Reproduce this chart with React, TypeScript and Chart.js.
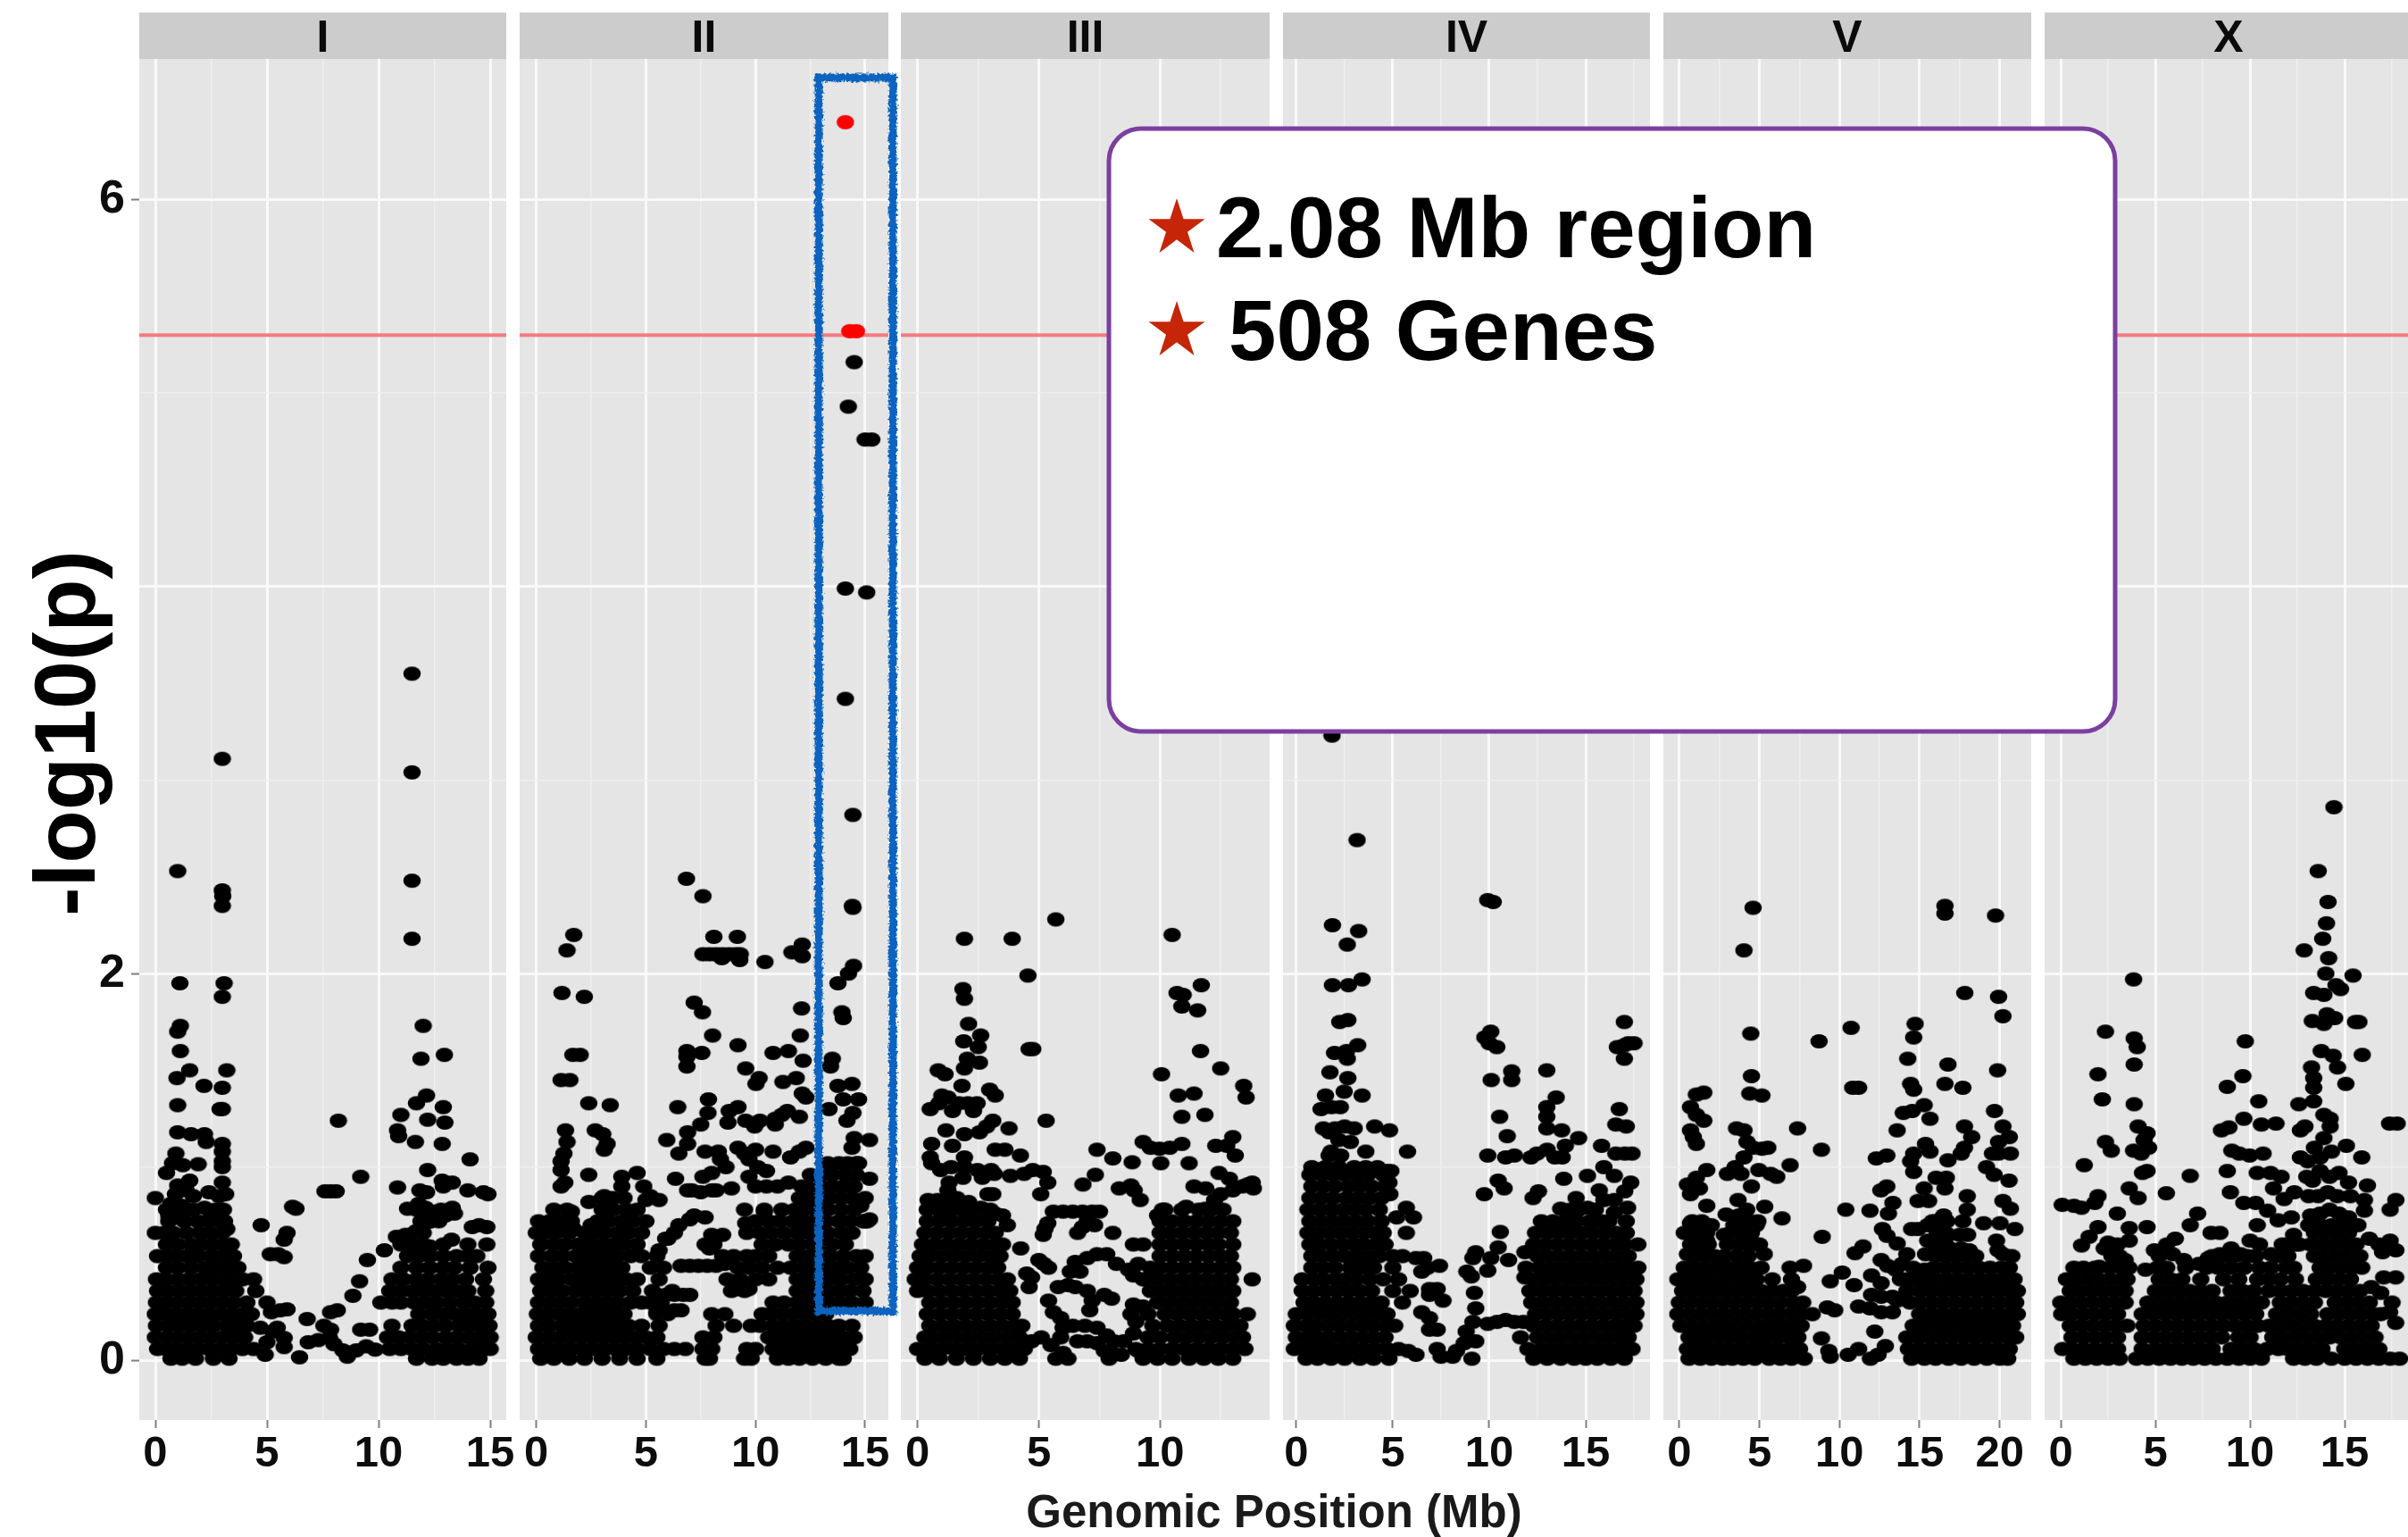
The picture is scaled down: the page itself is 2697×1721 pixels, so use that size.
import React, { useEffect, useRef } from "react";
import { Chart, registerables } from "chart.js";

Chart.register(...registerables);

// ---------- values (x = Mb, y = -log10 p) ----------
const chromosomes = ["I", "II", "III", "IV", "V", "X"];
const threshold = 5.3;
const yMajorTicks = [0, 2, 4, 6];
const yLabelled = [0, 2, 6];

const peaksI = [[11.5,3.55],[11.5,3.04],[3,3.11],[1,2.53],[3,2.43],[3.02,2.4],[3,2.35],[11.5,2.48],[11.5,2.18],[1.1,1.95],[3.08,1.95],[3,1.88],[12,1.73],[1.12,1.73],[1,1.7],[1.12,1.6],[11.9,1.56],[12.95,1.58],[3.2,1.5],[1.54,1.5],[.97,1.46],[2.18,1.42],[3,1.41],[1,1.32],[3,1.3],[2.9,1.3],[12.15,1.37],[11.7,1.33],[12.9,1.31],[11,1.27],[12.2,1.245],[12.97,1.23],[8.2,1.24],[10.85,1.19],[10.9,1.16],[11.65,1.13],[12.85,1.12],[1,1.18],[1.6,1.17],[2.2,1.17],[2.28,1.13],[3,1.12],[3,1.08],[3,1.03],[3,1],[.92,1.07],[.77,1.02],[1.23,1.01],[1.92,1.015],[14.1,1.04],[12.2,.985],[9.2,.95],[3,.92],[1.54,.93],[1,.905],[10.85,.895],[12.85,.93],[13.3,.92],[12.9,.9],[14,.88],[14.9,.86],[14.7,.87],[7.85,.875],[7.6,.875],[8.1,.875],[0,.84],[1.38,.88],[1.7,.85],[2.4,.87],[2.85,.85],[3.15,.86],[11.85,.88],[12.15,.87],[6.15,.795],[6.3,.785],[.7,.81],[11.3,.785],[11.8,.81],[12.1,.79],[12.5,.77],[13,.75],[13.3,.79],[13.4,.76],[4.74,.7],[5.9,.66],[5.77,.625],[14.5,.7],[14.2,.69],[14.85,.69],[14.85,.6],[14,.6],[13.27,.625],[12.3,.59],[5.15,.55],[5.5,.55],[5.77,.535],[10.26,.57],[9.5,.52],[9.15,.41],[8.85,.335],[7.85,.25],[8.15,.26],[6.8,.215],[6.46,.017],[6.85,.095],[7.3,.106],[7.8,.117],[8,.085],[8.4,.053],[8.6,.02],[9,.053],[9.45,.074],[9.85,.057],[9.2,.16],[9.6,.16],[7.55,.18],[7.85,.16],[5,.3],[5.2,.25],[5.9,.265],[5.6,.26],[5.77,.07],[4.92,.03],[5.77,.117],[5.46,.17],[5,.095],[4.7,.17],[5.25,.15],[.5,.97],[.9,.86],[1.2,.8],[2.2,.79],[2.5,.76],[2.9,.78],[3.1,.72],[3.2,.68],[.6,.75],[.9,.74],[1.2,.75],[10.8,.64],[11.2,.65],[11.7,.67],[12,.7],[12.3,.72]];
const rowsI = [
[.01,.7,1.2,1.8,2.6,3.3,11.7,12.4,12.9,13.5,14,14.5],
[.06,.1,.5,.9,1.4,1.9,2.4,2.9,3.4,3.9,4.4,10.5,11,11.5,12,12.6,13.1,13.6,14.2,14.7,15],
[.12,0,.5,1,1.5,2,2.5,3,3.5,4,10.4,10.9,11.4,11.9,12.4,13,13.5,14,14.5,15],
[.18,.05,.6,1.1,1.6,2.1,2.6,3.2,3.7,4.1,10.6,11.5,12,12.5,13,13.6,14.1,14.6,14.95],
[.24,0,.4,.9,1.4,1.9,2.4,2.9,3.4,3.9,4.3,11.8,12.4,12.9,13.4,13.9,14.4,14.9],
[.3,.05,.5,1,1.5,2,2.5,3,3.5,4.1,10.1,10.6,11,11.6,12.1,12.6,13.2,13.8,14.3,14.8],
[.36,.1,.6,1.1,1.6,2.1,2.6,3.1,3.6,4.5,10.5,11,11.5,12,12.5,13,13.5,14,14.8],
[.42,.05,.45,1,1.5,2,2.5,3,3.4,3.9,4.4,10.6,11.1,11.7,12.2,12.8,13.3,13.9,14.7],
[.48,.5,1,1.6,2.2,2.7,3.2,3.7,11,11.7,12.3,12.9,13.4,14.1,14.9],
[.54,.1,.5,.9,1.4,1.9,2.5,3,3.5,11.3,11.8,12.3,12.9,13.5,14,14.4],
[.6,.5,1,1.6,2.1,2.6,3.1,3.4,11,11.5,12,12.9],
[.66,0,.4,.8,1.4,2,2.5,3,11.6,12],
[.72,.6,1.3,1.9,2.4,2.9,11.9,12.3,12.7],
[.78,.5,.9,1.7,2.7,3.05,11.7,12,12.8],
];

const peaksII = [[6.85,2.49],[7.6,2.4],[14.44,2.34],[1.71,2.2],[1.4,2.12],[8.1,2.19],[9.17,2.19],[7.6,2.1],[7.9,2.1],[8.2,2.1],[8.5,2.1],[8.8,2.1],[9.1,2.1],[9.3,2.1],[8.46,2.08],[9.28,2.07],[10.43,2.06],[12.13,2.15],[11.66,2.11],[12.13,2.09],[14.47,2.04],[14.24,2],[13.76,1.95],[1.17,1.9],[2.19,1.88],[7.2,1.85],[7.58,1.8],[12.1,1.82],[13.94,1.8],[14,1.77],[8.04,1.68],[12.04,1.68],[9.2,1.63],[6.87,1.6],[6.87,1.57],[6.87,1.52],[7.55,1.59],[10.8,1.59],[11.5,1.6],[1.67,1.58],[2,1.58],[12.17,1.55],[13.5,1.56],[13.42,1.52],[9.55,1.51],[10.16,1.46],[10.02,1.43],[1.13,1.45],[1.53,1.45],[11.25,1.44],[11.86,1.46],[13.76,1.42],[14.4,1.43],[12.13,1.38],[12.3,1.36],[14,1.35],[14.7,1.35],[2.39,1.33],[3.37,1.32],[6.45,1.31],[7.85,1.35],[7.83,1.28],[9.2,1.31],[8.8,1.29],[13.35,1.3],[11.45,1.29],[12,1.26],[10.9,1.25],[11.2,1.27],[10.2,1.24],[9.96,1.21],[9.55,1.24],[8.74,1.23],[10.9,1.22],[14.17,1.24],[14.44,1.28],[7.5,1.22],[1.33,1.19],[2.69,1.19],[3.03,1.17],[3.23,1.12],[3.1,1.09],[6.9,1.18],[6.9,1.12],[5.95,1.14],[6.5,1.07],[15.2,1.14],[1.4,1.13],[1.26,1.07],[1.13,1.03],[1.13,.985],[7.7,1.08],[8.3,1.08],[8.4,1.04],[8.65,1],[9.2,1.1],[9.5,1.07],[9.7,1.04],[10,1.09],[10.1,1],[10.5,.98],[10.8,1.08],[11.6,1.05],[12,1.08],[12.3,1.1],[2.39,.96],[4.6,.97],[3.9,.95],[3.9,.9],[4.9,.9],[5.2,.85],[5.6,.83],[5,.83],[6.35,.94],[6.9,.88],[7.1,.88],[7.5,.87],[8,.88],[8.2,.88],[8.9,.89],[7.6,.95],[8,.97],[9.7,.95],[10,.9],[10.5,.9],[11,.9],[11.5,.92],[14.5,1.15],[14.4,1.1],[14.6,1.02],[15.2,.94],[1.13,.9],[1.3,.92],[2.4,.82],[3.1,.85],[3.1,.78],[6.5,.7],[6.3,.66],[6,.63],[7.2,.75],[7,.73],[7.7,.74],[10.4,.77],[9.55,.71],[8,.65],[8.5,.65],[7.9,.58],[5.9,.63],[5.6,.57],[15.2,.73],[15,.72],[14.8,.8],[1.6,.77],[1.2,.72],[1.7,.68],[2.2,.66],[2.3,.6],[2.5,.7],[6.6,.49],[7,.49],[7.4,.49],[7.8,.49],[8.2,.49],[8.6,.5],[5.5,.34],[5.9,.34],[6.3,.34],[6.7,.34],[7,.34],[5.5,.25],[5.9,.25],[6.3,.26],[6.6,.26],[9.2,.37],[9.7,.37]];
const rowsII = [
[.01,.2,.8,1.5,2.2,3,3.8,4.6,5.5,7.7,7.9,9.5,9.8,11,11.5,12,12.6,13.2,13.8,14],
[.06,.1,.6,1.1,1.6,2.1,2.6,3.1,3.6,4.1,4.6,5.2,5.8,6.3,6.8,7.6,8,9.6,10,10.8,11.3,11.8,12.3,12.8,13.3,13.8,14.3],
[.12,0,.5,1,1.5,2,2.5,3,3.5,4,4.5,5,5.5,7.6,8.1,10.6,11,11.5,12,12.5,13,13.5,14,14.5],
[.18,.1,.6,1.2,1.7,2.2,2.7,3.2,3.7,4.2,4.8,5.6,8.2,9,9.8,10.2,10.8,11.3,11.8,12.3,12.8,13.3,13.8,14.4],
[.24,.05,.5,1,1.5,2,2.5,3,3.5,4,5.5,6,8,8.6,10.3,10.7,11.2,11.7,12.2,12.7,13.2],
[.3,.1,.6,1.1,1.6,2.2,2.7,3.2,3.7,4.3,4.8,5.2,5.7,10.8,11.3,11.9,12.4,12.9,13.4,13.9,14.4,15],
[.36,.2,.7,1.2,1.8,2.3,2.8,3.3,3.8,4.4,5.3,6.2,8.9,9.5,11.9,12.3,12.8,13.3,13.8,14.3,14.9],
[.42,.1,.5,1,1.6,2.1,2.6,3.1,3.6,4.1,4.6,5.6,8.7,9.3,10,10.6,11.9,12.4,12.9,13.4,13.9,14.5,15],
[.48,.3,.8,1.3,1.9,2.4,2.9,3.4,3.9,5.2,5.8,9.2,9.7,10.3,11,11.6,12.2,12.7,13.2,13.7,14.2,14.8],
[.54,.1,.7,1.2,1.8,2.2,2.7,3.2,3.7,4.3,4.8,5.5,8.5,9,9.6,10,10.6,11.9,12.4,12.9,13.4,14,14.6,15],
[.6,.2,.8,1.3,1.9,2.5,3,3.5,4,4.6,7.7,8.1,10.3,10.9,11.5,12,12.6,13,13.5,14.1],
[.66,0,.4,.9,1.5,2.6,3.1,3.7,4.2,4.8,9.6,10.2,10.7,11.3,11.9,12.4,12.9,13.3,13.9,14.4],
[.72,.1,.6,1.1,1.6,2.8,3.3,3.9,4.4,5,10,10.6,11.1,11.7,12.2,12.7,13.2,13.8,14.3,14.9,15.1],
[.78,.8,1.4,3,3.5,4.1,4.6,9.5,10.4,11.2,11.8,12.2,12.7,13.3,13.9,14.5],
[.84,3,3.5,4,12,12.4,12.9,13.4,13.9,14.4,15],
[.9,12.1,12.5,13,13.5,14,14.5],
[.96,12.5,13,13.5,14.1,14.6],
[1.02,13.3,13.8,14.2,14.7],
];

const peaksIII = [[5.7,2.28],[1.93,2.18],[3.9,2.18],[10.5,2.2],[4.55,1.99],[11.7,1.94],[1.87,1.92],[1.93,1.87],[10.7,1.9],[10.95,1.89],[10.9,1.83],[11.55,1.81],[2.1,1.74],[2.6,1.68],[1.9,1.65],[2.5,1.62],[4.75,1.61],[4.6,1.61],[11.67,1.6],[2.05,1.56],[2.55,1.54],[1.93,1.51],[.85,1.5],[1.13,1.48],[12.5,1.51],[10.06,1.48],[1.83,1.42],[13.45,1.42],[13.55,1.36],[2.97,1.4],[3.2,1.37],[10.75,1.37],[11.4,1.38],[1,1.37],[1.25,1.36],[.88,1.33],[.52,1.3],[1.7,1.33],[2.07,1.33],[2.45,1.33],[1.44,1.29],[2.3,1.29],[10.9,1.26],[11.85,1.27],[5.3,1.24],[3.1,1.24],[2.85,1.21],[2.55,1.18],[3.77,1.2],[1.17,1.19],[1.93,1.17],[13,1.155],[9.3,1.13],[9.6,1.1],[9.98,1.095],[10.4,1.1],[10.9,1.12],[7.4,1.09],[12.3,1.11],[12.75,1.11],[13.1,1.06],[.58,1.12],[1.44,1.11],[3.2,1.09],[3.6,1.09],[4.24,1.06],[8.05,1.045],[8.85,1.025],[10.03,1.02],[11.2,1.02],[.52,1.05],[.58,1.02],[.95,.985],[1.38,1],[1.93,1.05],[1.93,1],[1.87,.945],[2.47,.985],[3.03,.985],[2.67,.945],[3.16,.965],[3.83,.955],[4.39,.965],[4.75,.985],[5.18,.975],[5.37,.92],[5.08,.86],[7.33,.96],[6.82,.91],[12.43,.97],[12.86,.94],[13.8,.92],[13.85,.89],[13.6,.91],[8.32,.89],[8.8,.905],[9.18,.83],[8.93,.88],[11.4,.9],[11.88,.89],[12.5,.86],[13,.88],[13.4,.9],[3.1,.86],[2.9,.86],[.43,.83],[1.25,.88],[.82,.83],[1.62,.84],[11.08,.795],[11.88,.785],[12.25,.83],[5.6,.77],[6,.77],[6.4,.77],[6.8,.77],[7.2,.77],[7.5,.77],[5.25,.68],[5.18,.65],[5.37,.71],[6.8,.69],[7,.72],[7.3,.7],[6.6,.66],[8.05,.66],[8.9,.6],[9.3,.6],[4.25,.58],[9.9,.75],[10.2,.78],[3.5,.75],[3.7,.7],[3.2,.76],[2.6,.79],[1.3,.92],[1,.75],[5,.52],[5.2,.5],[4.7,.43],[4.5,.45],[5.4,.48],[4.6,.38],[6.3,.46],[6.7,.46],[6.5,.51],[7,.53],[7.4,.55],[7.8,.55],[8.2,.5],[8.7,.47],[8.9,.44],[9.1,.5],[9.4,.42],[9.8,.44],[5.4,.31],[5.8,.38],[6.2,.39],[6.5,.38],[7,.36],[7.2,.31],[7.7,.34],[8,.32],[7.1,.26],[8.9,.29],[9.3,.28],[5.6,.25],[5.9,.22],[6,.17],[5.9,.12],[4.7,.1],[5.1,.12],[5.5,.08],[6,.04],[6.4,.18],[6.9,.18],[7.4,.17],[7.8,.13],[8.1,.1],[6.6,.1],[7,.1],[7.4,.09],[7.7,.05],[8,.04],[8.5,.1],[8.9,.14],[9,.2],[8.8,.24],[5.7,.01],[6.2,.01],[7.9,.01],[8.4,.03],[9.1,.05]];
const rowsIII = [
[.01,.3,.9,1.6,2.3,3,3.6,4.2,9.3,9.9,10.5,11.2,11.8,12.4,13],
[.06,0,.5,1,1.5,2,2.5,3,3.5,4,4.4,9,9.5,10,10.5,11,11.5,12,12.5,13,13.5],
[.12,.3,.7,1.2,1.7,2.2,2.7,3.2,3.7,4.2,9.5,10,10.6,11.1,11.6,12.1,12.6,13.1,13.4],
[.18,.5,1,1.5,2,2.5,3,3.5,4,4.3,9.7,10.3,10.8,11.3,11.8,12.3,12.8,13.3],
[.24,.4,.9,1.4,1.9,2.4,2.9,3.4,3.9,9.5,10.2,10.7,11.2,11.7,12.2,12.7,13,13.6],
[.3,.5,1,1.5,2,2.5,3,3.5,3.9,9.9,10.4,10.9,11.4,11.9,12.4,12.9],
[.36,0,.4,.9,1.4,1.9,2.4,2.9,3.4,3.8,9.6,10.1,10.6,11.1,11.6,12.1,12.6,13],
[.42,-.1,.3,.8,1.3,1.8,2.3,2.8,3.3,3.7,9.3,9.9,10.4,10.9,11.4,11.9,12.4,12.9,13.8],
[.48,0,.4,.9,1.4,1.9,2.4,2.9,3.3,9.6,10,10.5,11,11.5,12,12.5,13],
[.54,.1,.5,1,1.5,2,2.5,3,3.4,10,10.5,11,11.5,12,12.5,12.9],
[.6,.2,.7,1.2,1.7,2.2,2.7,3.2,3.5,10,10.5,11,11.5,12,12.4,13],
[.66,.3,.8,1.3,1.8,2.3,2.8,3.2,10,10.4,10.9,11.4,11.9,12.4,12.9],
[.72,.4,.9,1.4,1.9,2.4,2.9,10,10.5,11,11.5,12,12.5,13],
[.78,.4,.9,1.4,1.8,2.2,2.7,3,10.1,10.9,11.6,12.1,12.6],
[.82,1.2,1.7,2.1],
];

const peaksIV = [[1.85,3.23],[3.15,2.69],[1.87,2.25],[3.23,2.22],[2.64,2.15],[3.41,1.97],[1.87,1.94],[2.7,1.94],[9.92,2.38],[10.2,2.37],[2.25,1.75],[2.67,1.76],[17,1.75],[10.08,1.7],[9.77,1.67],[10,1.64],[10.39,1.62],[16.64,1.62],[17,1.63],[17.5,1.64],[17.2,1.64],[17,1.56],[3.18,1.63],[2.6,1.6],[1.98,1.59],[2.64,1.56],[12.98,1.5],[11.16,1.495],[11.16,1.45],[1.74,1.49],[10.1,1.45],[2.67,1.46],[2.48,1.39],[3.41,1.37],[1.51,1.37],[1.28,1.3],[1.82,1.31],[2.28,1.31],[13.47,1.36],[12.98,1.31],[12.98,1.26],[12.98,1.2],[10.54,1.26],[16.74,1.3],[16.56,1.22],[17.1,1.21],[4.06,1.21],[4.83,1.19],[13.75,1.19],[10.93,1.16],[14.63,1.15],[13.94,1.11],[15.82,1.11],[5.76,1.08],[9.92,1.06],[10.85,1.05],[11.3,1.06],[12.16,1.05],[12.47,1.07],[13,1.09],[13.4,1.05],[13.78,1.05],[16.56,1.07],[17.02,1.07],[17.4,1.07],[15.94,1],[16.48,.955],[13.86,.94],[15.09,.955],[10.46,.93],[10.77,.89],[12.55,.875],[12.27,.84],[9.74,.86],[17.33,.92],[17.02,.875],[15.7,.88],[15.94,.83],[16.48,.83],[16.48,.765],[17.17,.79],[13.7,.785],[14.55,.775],[15.09,.79],[5.7,.79],[5.2,.74],[6.07,.74],[5.7,.66],[10.57,.665],[17.1,.72],[10.46,.585],[10.08,.53],[9.92,.465],[9.3,.56],[9.15,.53],[11,.52],[11.85,.56],[8.84,.46],[9.07,.435],[11.85,.43],[7.42,.49],[9.23,.35],[9.3,.27],[9.15,.2],[11.62,.12],[9.92,.19],[10.4,.2],[10.85,.21],[11.3,.2],[11.77,.2],[6.2,.53],[6.6,.53],[6.5,.46],[6.8,.48],[7.3,.37],[6.9,.37],[6.5,.25],[6.9,.22],[7.3,.16],[6.9,.16],[7.6,.31],[6.9,.34],[5.8,.05],[6.2,.03],[7.3,.06],[7.5,.02],[8.1,.02],[8.3,.05],[8.7,.09],[9.1,.01],[8.8,.15],[9.3,.1],[2,1.2],[2.5,1.21],[3,1.2],[1.4,1.2],[1.7,1.18],[2.2,1.14],[2.8,1.13],[3.6,1.08],[1.8,1.08],[4.7,.98],[4.8,.92],[4.85,.86],[4.9,.98]];
const rowsIV = [
[.01,.5,1.1,1.8,2.5,3.3,4,4.8,12.3,13,13.7,14.4,15,15.6,16.3,17],
[.06,-.1,.4,.9,1.4,1.9,2.5,3,3.5,4.1,4.7,5.3,12,12.7,13.3,13.9,14.5,15.1,15.7,16.3,16.9,17.4],
[.12,0,.6,1.1,1.7,2.3,2.9,3.5,4,4.6,12.5,13.1,13.7,14.3,14.9,15.5,16.1,16.7,17.2],
[.18,-.1,.5,1,1.6,2.2,2.8,3.4,4,4.6,5.1,12.3,12.9,13.5,14.1,14.7,15.3,15.9,16.5,17,17.5],
[.24,0,.6,1.2,1.8,2.4,3,3.6,4.2,4.7,12.4,13,13.6,14.2,14.8,15.4,16,16.6,17.2,17.6],
[.3,.4,.9,1.5,2.1,2.7,3.3,3.9,4.4,5.5,12.2,12.8,13.4,14,14.6,15.2,15.8,16.4,17,17.6],
[.36,.3,.9,1.5,2.1,2.7,3.3,3.9,5,5.9,12.1,12.7,13.3,13.9,14.5,15.1,15.7,16.3,16.9,17.5],
[.42,.3,.9,1.4,2,2.5,3.1,3.8,4.5,5.3,12.3,12.9,13.5,14.1,14.7,15.3,15.9,16.5,17.1,17.6],
[.48,.8,1.4,2,2.8,3.4,4,5,11.9,12.6,13.2,13.8,14.4,15,15.6,16.2,16.8,17.2,17.7],
[.54,.8,1.3,1.9,2.5,3.1,3.7,4.3,5,5.5,12.5,13,13.6,14.2,14.8,15.4,16,16.6,17.2],
[.6,.7,1.2,1.8,2.4,3,3.5,4.1,4.6,12.3,12.9,13.5,14.1,14.7,15.3,15.9,16.5,17,17.7],
[.66,.6,1.1,1.7,2.3,2.9,3.5,4.1,4.5,12.4,13,13.6,14.2,14.8,15.4,16,16.6,17.1],
[.72,.7,1.3,1.9,2.5,3.1,3.7,4.4,12.7,13.3,13.9,14.5,15.2,15.8,16.2],
[.78,.6,1.2,1.8,2.4,3,3.6,4.3,14.2,14.6,15.5],
[.84,.7,1.3,1.9,2.6,3.2,3.8,4.4,14.5],
[.9,.8,1.4,2,2.7,3.3,3.9,4.6],
[.96,.7,1.3,1.9,2.5,3.1,3.7,4.5],
[1.0,.8,1.5,2.2,3,3.6,4.2],
[1.06,1.7,2.3],
];

const peaksV = [[4.6,2.34],[4.03,2.12],[16.58,2.35],[16.58,2.31],[19.74,2.3],[17.82,1.9],[19.93,1.88],[20.2,1.78],[4.46,1.69],[10.72,1.72],[8.72,1.65],[14.72,1.74],[14.63,1.67],[14.26,1.56],[16.77,1.53],[19.87,1.5],[4.5,1.47],[14.44,1.43],[14.63,1.4],[16.58,1.43],[17.7,1.41],[10.82,1.41],[11.19,1.41],[4.4,1.38],[5.15,1.37],[1.52,1.385],[1.06,1.375],[15.28,1.32],[13.98,1.28],[14.54,1.29],[15.65,1.25],[19.68,1.29],[.69,1.31],[1.06,1.27],[1.52,1.24],[.69,1.19],[.87,1.155],[1.06,1.12],[3.57,1.2],[4.03,1.19],[4.22,1.13],[7.38,1.2],[13.6,1.19],[17.8,1.21],[18.25,1.155],[17.8,1.1],[17.6,1.07],[20.2,1.21],[20.6,1.155],[19.93,1.13],[20.67,1.07],[19.93,1.07],[19.55,1.07],[8.87,1.09],[15.37,1.12],[15.65,1.08],[14.63,1.07],[14.44,1.03],[14.63,.975],[12.3,1.045],[12.95,1.06],[16.77,1.035],[19.18,1],[19.65,.96],[20.58,.93],[6.91,1.01],[4.6,1.1],[5.52,1.1],[5.15,1.095],[4.03,1.05],[3.48,1],[1.71,.985],[3,.965],[3.85,.965],[4.96,.985],[5.7,.965],[6.08,.95],[4.5,.9],[1.06,.945],[.5,.91],[1.25,.89],[.69,.86],[12.95,.9],[12.58,.88],[16.03,.945],[16.67,.945],[16.58,.89],[15.28,.89],[17.97,.85],[3.66,.83],[1.71,.8],[5.33,.795],[13.33,.815],[13.05,.76],[14.9,.825],[15.56,.825],[20.2,.825],[20.67,.785],[10.39,.78],[11.9,.775],[17.97,.78],[2.92,.755],[6.41,.735],[19,.71],[20.02,.71],[.69,.71],[1.99,.7],[12.68,.68],[12.96,.645],[20.95,.68],[8.92,.64],[13.6,.605],[11.47,.59],[10.97,.555],[20.76,.54],[15.37,.55],[7.75,.49],[6.91,.48],[7.38,.38],[7,.42],[10.17,.455],[9.42,.41],[10.91,.39],[11.19,.28],[9.24,.275],[9.7,.26],[8.87,.115],[9.33,.05],[9.42,.02],[10.54,.03],[11.19,.06],[11.93,.01],[12.4,.03],[12.86,.075],[12.6,.52],[13,.49],[13.5,.47],[12,.44],[12.6,.4],[12,.34],[12.6,.33],[11.9,.27],[12.6,.25],[13.3,.25],[12.2,.15],[.7,.6],[.5,.55],[1.2,.6],[1.7,.62],[2.8,.65],[3.4,.7],[3.9,.68],[4.4,.65],[5,.6],[4.8,.7],[4.2,.78],[3.7,.75],[5.3,.55],[14.5,.68],[14.9,.68],[15.5,.7],[16,.72],[16.5,.75],[16.8,.65],[16.9,.58],[17.5,.65],[17.7,.72],[18,.65],[17.6,.58],[18.1,.57],[19.8,.62],[19.9,.57],[20.2,.55],[15.5,.62],[16.4,.55],[14.2,.55],[13.9,.5],[14.6,.48],[15.3,.47],[13.8,.42],[14.2,.42],[13.3,.33],[13.6,.31]];
const rowsV = [
[.01,.6,1.3,2,2.7,3.3,4,4.7,5.6,6.3,7,7.8,14.5,15.3,16,16.8,17.6,18.4,19.2,20,20.5],
[.06,.5,1.1,1.7,2.3,3,3.7,4.3,5,5.6,6.2,6.9,7.5,14.3,15,15.7,16.4,17.1,17.8,18.5,19.2,19.9,20.6],
[.12,.6,1.2,1.8,2.5,3.2,3.9,4.7,5.4,6.1,6.8,7.4,14.2,14.9,15.6,16.3,17,17.7,18.4,19.1,19.8,20.5,21],
[.18,.1,.8,1.5,2.2,2.9,3.6,4.3,5,5.7,6.4,7.1,7.6,14.6,15.3,16,16.7,17.4,18.1,18.8,19.5,20.2,20.8],
[.24,-.1,.6,1.3,2,2.7,3.4,4.1,4.8,5.5,6.2,6.9,7.6,8.3,15,15.7,16.4,17.1,17.8,18.5,19.2,19.9,20.6,21.1],
[.3,0,.7,1.4,2.1,2.8,3.5,4.2,4.9,5.6,6.3,7.1,7.7,14.4,15.1,15.8,16.5,17.2,17.9,18.6,19.3,20,20.7,21],
[.36,.2,.9,1.6,2.3,3,3.7,4.4,5.1,5.8,6.5,7,14.2,15,15.7,16.4,17.1,17.8,18.5,19.2,19.9,20.6,21.1],
[.42,-.1,.6,1.3,2,2.7,3.4,4.1,4.8,5.8,14.6,15.3,16,16.7,17.4,18.1,18.8,19.5,20.2,20.9],
[.48,.3,1,1.7,2.4,3.1,3.8,4.4,5.1,15.9,16.6,17.3,18,18.7,19.4,20.1,20.6],
[.54,.8,1.5,2.2,2.8,3.6,4.3,16,16.7,17.3,17.9,18.5],
[.6,1,1.8,3,3.7,4.3,4.8,16,16.6],
[.66,.3,1,1.7,3.2,3.9,4.5,16.1,16.6],
[.72,.8,1.4,4.4,4.9,15.8,16.3,16.7],
];

const peaksX = [[14.43,2.86],[13.6,2.53],[14.12,2.37],[14.04,2.26],[13.84,2.18],[12.86,2.12],[14.15,2.08],[14,2],[15.44,1.99],[3.85,1.97],[14.54,1.94],[14.78,1.92],[13.36,1.9],[13.9,1.89],[15.57,1.75],[15.75,1.75],[13.29,1.755],[14.07,1.79],[14.47,1.77],[13.9,1.74],[2.36,1.7],[9.75,1.65],[3.88,1.665],[4.04,1.62],[13.76,1.6],[14.39,1.575],[14.62,1.515],[15.93,1.58],[3.88,1.53],[13.25,1.515],[13.36,1.46],[13.36,1.41],[1.97,1.48],[9.62,1.47],[15.06,1.43],[8.8,1.415],[2.2,1.35],[10.46,1.34],[3.88,1.325],[12.58,1.325],[13.36,1.34],[13.9,1.27],[14.23,1.25],[14.23,1.21],[17.37,1.225],[17.77,1.225],[9.67,1.25],[11.37,1.225],[10.6,1.22],[12.9,1.21],[12.66,1.19],[8.88,1.205],[8.49,1.19],[4.09,1.21],[4.56,1.175],[4.4,1.14],[2.36,1.13],[2.67,1.085],[3.85,1.085],[4.25,1.07],[4.64,1.1],[15.09,1.11],[15.9,1.05],[12.66,1.05],[13.05,1.03],[9.04,1.085],[9.43,1.07],[9.98,1.06],[10.69,1.07],[1.24,1.01],[6.84,.955],[8.8,.98],[4.32,.97],[4.56,.98],[10.38,.97],[11.08,.97],[11.64,.95],[3.62,.89],[4.09,.84],[5.58,.865],[11.24,.89],[8.96,.87],[1.97,.85],[1.8,.815],[.08,.805],[.7,.8],[1.1,.79],[17.7,.83],[17.4,.78],[11.8,.835],[12.34,.87],[16.2,.905],[16.04,.83],[16.04,.775],[2.99,.76],[7.23,.76],[9.67,.815],[10.3,.815],[10.93,.775],[1.97,.69],[1.5,.64],[1.1,.595],[3.62,.685],[3.62,.62],[4.56,.69],[6.05,.63],[6.84,.7],[7.94,.66],[8.41,.66],[2.5,.61],[4.95,.57],[10.38,.7],[11.48,.725],[12.18,.74],[16.3,.63],[16.8,.6],[17.4,.62],[17.7,.57],[17,.56],[2.04,.485],[4.48,.47],[17.06,.43],[17.69,.43],[17.37,.25],[17.69,.195],[13,.95],[13.3,.93],[13.7,.98],[14.2,.95],[14.7,.97],[15.2,.92],[13.4,1.1],[13.9,1.15],[14.3,1.08],[13.7,1.05],[15.3,.85],[13.1,.85],[13.6,.85],[14.1,.87],[14.6,.85],[13.2,.75],[13.7,.76],[14.2,.78],[14.7,.76],[15.2,.74],[15.7,.7],[2.3,.58],[2.9,.55],[3.4,.52],[16.4,.38],[16.9,.35],[17.5,.3],[5.9,.55],[6.5,.52],[7.3,.5],[7.8,.53],[8.4,.55],[9,.58],[9.5,.55],[10,.62],[10.5,.6],[11.1,.55],[11.7,.6],[12.3,.65],[12.6,.6]];
const rowsX = [
[.01,.7,1.3,1.9,2.5,3.1,4,4.6,5.2,5.8,6.4,7,7.6,8.2,8.8,9.4,10,10.6,12.3,12.9,13.5,14.3,15,15.6,16.2,16.8,17.4,17.9],
[.06,.1,.6,1.2,1.8,2.4,3,4.3,5,5.6,6.2,6.8,7.4,8,9,9.6,10.2,10.9,11.5,12,12.6,13.2,13.8,15,15.6,16.2,16.8],
[.12,.6,1.2,1.8,2.4,3,4.3,4.9,5.5,6.1,6.7,7.3,7.9,8.5,9.4,10,11.2,11.8,12.4,13,13.6,14.2,14.8,15.4,16,16.6],
[.18,.5,1.1,1.7,2.3,2.9,3.5,4.4,5,5.6,6.2,6.8,7.4,8,8.6,9.2,9.8,10.4,11,11.6,12.2,12.8,13.4,14,14.6,15.2,15.8,16.4],
[.24,.05,.6,1.2,1.8,2.4,3,4.3,4.9,5.5,6.1,6.7,7.3,7.9,8.5,9.1,9.7,10.3,11.4,12,12.6,13.2,14.1,14.7,15.3,15.9,16.5,16.9],
[.3,0,.5,1.1,1.7,2.3,2.9,3.4,4.6,5.2,5.8,6.4,7,7.6,8.2,8.8,9.4,10,10.6,11.6,12.2,12.8,13.4,14.5,15.1,15.7,16.3],
[.36,.5,1,1.6,2.2,2.8,3.4,5,5.6,6.2,6.8,7.4,8,9,9.6,10.2,11,11.6,12.2,12.8,13.4,14,14.6,15.2,15.8],
[.42,.3,.8,1.4,2,2.6,3.2,3.5,5.2,5.8,6.4,7.4,8.6,9.4,10.4,11,11.6,12.4,13.5,14.1,14.7,15.3],
[.48,.7,1.2,1.8,2.6,3.2,3.6,5.1,5.6,6.6,7.7,8.3,9,9.7,10.5,11.1,11.9,12.3,13.7,14.2,14.8,15.4,15.9],
[.54,2.7,3.1,5.2,8,8.6,9.2,9.9,10.3,11.5,12,13.4,14,14.6,15.2,15.8],
[.6,2.6,3,5.6,12,12.4,13.2,13.8,14.4,15,15.6],
[.66,13.4,14,14.6,15.2],
[.7,13.1,13.7,14.3,14.9],
];

const regionPeaks = [[14.5,5.16],[14.23,4.93],[15,4.76],[15.3,4.76],[14.1,3.99],[15.07,3.97],[14.1,3.42],[14.44,2.82],[14.42,2.35]];
const significant = [[14.1,6.4],[14.3,5.32],[14.6,5.32]];

const panels = [
  { label: "I", xMin: -0.72, xMax: 15.72, ticks: [0, 5, 10, 15], minors: [2.5, 7.5, 12.5], peaks: peaksI, rows: rowsI },
  { label: "II", xMin: -0.76, xMax: 16.06, ticks: [0, 5, 10, 15], minors: [2.5, 7.5, 12.5], peaks: [...peaksII, ...regionPeaks], rows: rowsII, red: significant },
  { label: "III", xMin: -0.69, xMax: 14.52, ticks: [0, 5, 10], minors: [2.5, 7.5, 12.5], peaks: peaksIII, rows: rowsIII },
  { label: "IV", xMin: -0.69, xMax: 18.33, ticks: [0, 5, 10, 15], minors: [2.5, 7.5, 12.5, 17.5], peaks: peaksIV, rows: rowsIV },
  { label: "V", xMin: -1.0, xMax: 21.97, ticks: [0, 5, 10, 15, 20], minors: [2.5, 7.5, 12.5, 17.5], peaks: peaksV, rows: rowsV },
  { label: "X", xMin: -0.85, xMax: 18.58, ticks: [0, 5, 10, 15], minors: [2.5, 7.5, 12.5, 17.5], peaks: peaksX, rows: rowsX },
];

// ---------- layout ----------
const boxes = [
  { left: 156, right: 567 },
  { left: 582, right: 995 },
  { left: 1009, right: 1422 },
  { left: 1437, right: 1848 },
  { left: 1863, right: 2275 },
  { left: 2290, right: 2702 },
];
const STRIP_TOP = 14;
const PANEL_TOP = 66;
const PANEL_BOTTOM = 1590;
const CANVAS_BOTTOM = 1675;
const SIDE = 40;
const FONT = '"Liberation Sans", Arial, sans-serif';

function ellipseSprite(color: string) {
  const c = document.createElement("canvas");
  c.width = 21;
  c.height = 18;
  const g = c.getContext("2d")!;
  g.fillStyle = color;
  g.beginPath();
  g.ellipse(10.5, 9, 9.8, 8, 0, 0, Math.PI * 2);
  g.fill();
  return c;
}

function toPoints(peaks: number[][], rows: number[][]) {
  const pts = peaks.map(([x, y]) => ({ x, y }));
  rows.forEach(([y, ...xs]) => xs.forEach((x) => pts.push({ x, y })));
  return pts;
}

function Panel({ index }: { index: number }) {
  const ref = useRef<HTMLCanvasElement>(null);
  const p = panels[index] as any;
  const box = boxes[index];
  const first = index === 0;
  const canvasLeft = first ? 0 : box.left - SIDE;
  const width = box.right - canvasLeft + SIDE;
  useEffect(() => {
    const strip = {
      id: "strip",
      beforeDraw(chart: any) {
        const { ctx, chartArea: a } = chart;
        ctx.save();
        ctx.fillStyle = "#E5E5E5";
        ctx.fillRect(a.left, a.top, a.right - a.left, a.bottom - a.top);
        ctx.fillStyle = "#CCCCCC";
        ctx.fillRect(a.left, 0, a.right - a.left, a.top);
        ctx.fillStyle = "#0a0a0a";
        ctx.font = `bold 50px ${FONT}`;
        ctx.textAlign = "center";
        ctx.textBaseline = "alphabetic";
        ctx.fillText(p.label, (a.left + a.right) / 2, 44);
        ctx.restore();
      },
    };
    const xTicks = [...p.ticks, ...p.minors].sort((a: number, b: number) => a - b);
    const yTicks = [0, 1, 2, 3, 4, 5, 6];
    const chart = new Chart(ref.current!, {
      type: "scatter",
      data: {
        datasets: [
          {
            type: "line",
            data: [{ x: p.xMin, y: threshold }, { x: p.xMax, y: threshold }],
            borderColor: "#F47C80",
            borderWidth: 4,
            pointRadius: 0,
            order: 3,
          },
          {
            data: toPoints(p.peaks, p.rows),
            pointStyle: ellipseSprite("#000000"),
            pointRadius: 8,
            order: 2,
          },
          {
            data: (p.red || []).map(([x, y]: number[]) => ({ x, y })),
            pointStyle: ellipseSprite("#FF0000"),
            pointRadius: 8,
            order: 1,
          },
        ],
      } as any,
      options: {
        animation: false,
        responsive: false,
        events: [],
        layout: {
          padding: { left: first ? 0 : SIDE, right: SIDE, top: PANEL_TOP - STRIP_TOP, bottom: 0 },
        },
        plugins: { legend: { display: false }, tooltip: { enabled: false }, title: { display: false } },
        scales: {
          x: {
            type: "linear",
            min: p.xMin,
            max: p.xMax,
            afterBuildTicks: (s: any) => {
              s.ticks = xTicks.map((value: number) => ({ value }));
            },
            afterFit: (s: any) => {
              s.height = CANVAS_BOTTOM - PANEL_BOTTOM;
            },
            border: { display: false },
            grid: {
              color: (c: any) => (p.ticks.includes(c.tick?.value) ? "#F9F9F9" : "#EFEFEF"),
              lineWidth: (c: any) => (p.ticks.includes(c.tick?.value) ? 3 : 1.5),
              tickColor: (c: any) => (p.ticks.includes(c.tick?.value) ? "#7F7F7F" : "rgba(0,0,0,0)"),
              tickWidth: 2,
              tickLength: 9,
            },
            ticks: {
              autoSkip: false,
              maxRotation: 0,
              padding: 0,
              color: "#0d0d0d",
              font: { family: FONT, weight: "bold", size: 49 },
              callback: (v: any) => (p.ticks.includes(v) ? String(v) : ""),
            },
          },
          y: {
            type: "linear",
            min: -0.307,
            max: 6.727,
            afterBuildTicks: (s: any) => {
              s.ticks = yTicks.map((value) => ({ value }));
            },
            afterFit: (s: any) => {
              s.width = first ? box.left : 0;
            },
            border: { display: false },
            grid: {
              color: (c: any) => (yMajorTicks.includes(c.tick?.value) ? "#F9F9F9" : "#EFEFEF"),
              lineWidth: (c: any) => (yMajorTicks.includes(c.tick?.value) ? 3 : 1.5),
              drawTicks: first,
              tickColor: (c: any) => (yLabelled.includes(c.tick?.value) ? "#7F7F7F" : "rgba(0,0,0,0)"),
              tickWidth: 2,
              tickLength: 9,
            },
            ticks: {
              display: first,
              autoSkip: false,
              padding: 7,
              color: "#0d0d0d",
              font: { family: FONT, weight: "bold", size: 52 },
              callback: (v: any) => (yLabelled.includes(v) ? String(v) : ""),
            },
          },
        },
      } as any,
      plugins: [strip],
    });
    return () => chart.destroy();
  }, []);
  return (
    <canvas
      ref={ref}
      width={width}
      height={CANVAS_BOTTOM - STRIP_TOP}
      style={{
        position: "absolute",
        left: canvasLeft,
        top: STRIP_TOP,
        width,
        height: CANVAS_BOTTOM - STRIP_TOP,
        filter: "blur(0.7px)",
      }}
    />
  );
}

function Star({ cx, top }: { cx: number; top: number }) {
  const w = 63;
  const h = 61;
  const pts = [
    [0.5, 0], [0.62, 0.38], [1, 0.38], [0.69, 0.62], [0.81, 1],
    [0.5, 0.76], [0.19, 1], [0.31, 0.62], [0, 0.38], [0.38, 0.38],
  ]
    .map(([a, b]) => `${cx - w / 2 + a * w},${top + b * h}`)
    .join(" ");
  return <polygon points={pts} fill="#C62507" />;
}

export default function App() {
  useEffect(() => {
    document.body.style.margin = "0";
    document.body.style.background = "#fff";
  }, []);
  return (
    <div style={{ position: "fixed", left: 0, top: 0, width: 2697, height: 1721, overflow: "hidden", background: "#fff" }}>
      {panels.map((_, i) => (
        <Panel key={i} index={i} />
      ))}
      <svg width={2697} height={1721} style={{ position: "absolute", left: 0, top: 0 }} fontFamily={FONT} fontWeight="bold">
        <defs>
          <filter id="rough" x="-10%" y="-2%" width="120%" height="104%">
            <feTurbulence type="fractalNoise" baseFrequency="0.35" numOctaves="2" seed="3" />
            <feDisplacementMap in="SourceGraphic" scale="6" />
          </filter>
        </defs>
        <rect x={917} y={87} width={83} height={1381} fill="none" stroke="#0B63BF" strokeWidth={9} filter="url(#rough)" />
        <rect x={1242} y={144} width={1127} height={675} rx={36} ry={36} fill="#FFFFFF" stroke="#7B3FA0" strokeWidth={5} />
        <Star cx={1318} top={222} />
        <Star cx={1318} top={337} />
        <text x={1362} y={288} fontSize={96} fill="#000">2.08 Mb region</text>
        <text x={1376} y={403} fontSize={96} fill="#000">508 Genes</text>
        <text x={1427} y={1710} fontSize={51} fill="#1a1a1a" textAnchor="middle">Genomic Position (Mb)</text>
        <text transform="translate(106,821) rotate(-90)" fontSize={97} fill="#000" textAnchor="middle">-log10(p)</text>
      </svg>
    </div>
  );
}
